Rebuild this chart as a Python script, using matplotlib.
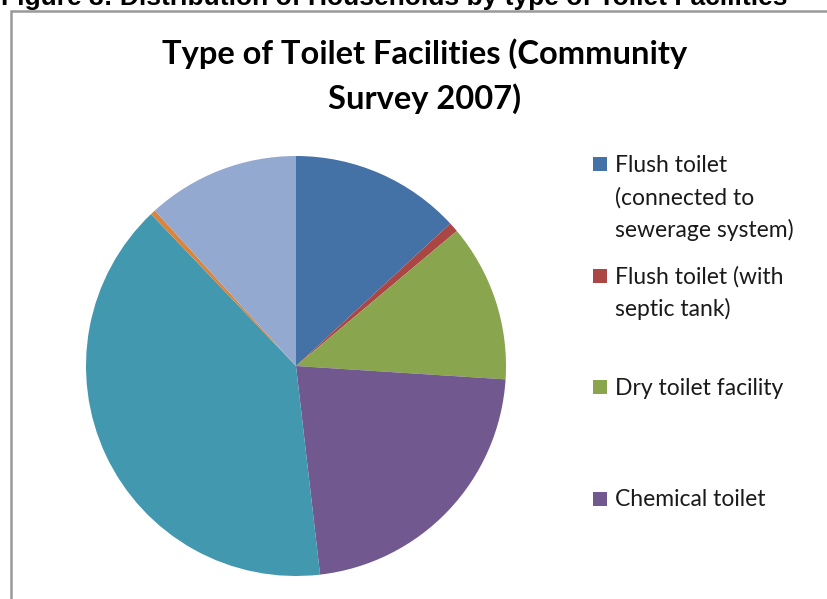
import matplotlib
matplotlib.use("Agg")
import matplotlib.pyplot as plt
from matplotlib.patches import Rectangle

# Share of households by toilet facility type (%)
categories = [
    "Flush toilet\n(connected to\nsewerage system)",
    "Flush toilet (with\nseptic tank)",
    "Dry toilet facility",
    "Chemical toilet",
    "Pit latrine",
    "Bucket toilet system",
    "None",
]
shares = [13.1, 0.75, 12.1, 22.1, 39.6, 0.4, 11.7]
colors = ["#4471A6", "#AA4644", "#89A54E", "#71588F", "#4198AF", "#DB843D", "#93A9CF"]

W, H = 828, 599
fig = plt.figure(figsize=(W / 100, H / 100), dpi=100)
fig.patch.set_facecolor("white")

def fx(px):
    return px / W

def fy(py):
    return 1 - py / H

# Caption above the chart box
fig.text(fx(1), fy(5), "Figure 3: Distribution of Households by type of Toilet Facilities",
         family="Liberation Sans", fontweight="bold", fontsize=19,
         ha="left", va="baseline", color="black")

# Chart box border
fig.patches.append(Rectangle((fx(11), fy(H + 20)), fx(W + 20), (H + 20 - 11) / H,
                             transform=fig.transFigure, fill=False,
                             edgecolor="#999999", linewidth=1.8))

# Chart title
fig.text(fx(425), fy(64), "Type of Toilet Facilities (Community",
         family="Lato", fontweight="bold", fontsize=23.5, ha="center", va="baseline")
fig.text(fx(425), fy(109), "Survey 2007)",
         family="Lato", fontweight="bold", fontsize=23.5, ha="center", va="baseline")

# Pie
cx, cy, r = 296, 366, 210
ax = fig.add_axes([fx(cx - r), fy(cy + r), 2 * r / W, 2 * r / H])
ax.pie(shares, colors=colors, startangle=90, counterclock=False,
       wedgeprops=dict(linewidth=0))
ax.set_xlim(-1, 1)
ax.set_ylim(-1, 1)
ax.set_aspect("equal")
ax.axis("off")

# Legend on the right (entries that fit inside the figure)
base0, step, line_h = 172, 111.5, 32.5
for i, (lab, col) in enumerate(zip(categories, colors)):
    b = base0 + i * step
    if b + 10 > H:
        break
    fig.patches.append(Rectangle((fx(593), fy(b - 1)), fx(14), 14 / H,
                                 transform=fig.transFigure, facecolor=col,
                                 edgecolor="none"))
    for j, line in enumerate(lab.split("\n")):
        fig.text(fx(615), fy(b + j * line_h), line, family="Lato", fontsize=16.5,
                 ha="left", va="baseline", color="#1a1a1a")

fig.savefig("out.png", dpi=100)
